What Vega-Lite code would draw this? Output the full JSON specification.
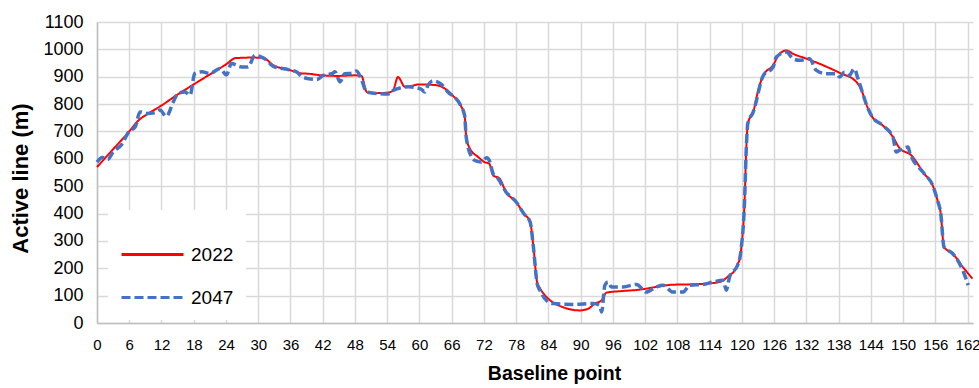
{
  "$schema": "https://vega.github.io/schema/vega-lite/v6.json",
  "width": 876,
  "height": 301,
  "autosize": {"type": "none"},
  "padding": {"left": 97, "top": 22, "right": 6, "bottom": 65},
  "background": "white",
  "config": {"view": {"stroke": null}, "font": "Liberation Sans"},
  "datasets": {
    "y2022": [
      {"point": 0, "m": 570}, {"point": 3, "m": 635}, {"point": 6, "m": 700}, {"point": 7.7, "m": 740},
      {"point": 9.5, "m": 765}, {"point": 12, "m": 795}, {"point": 15, "m": 835}, {"point": 18, "m": 872},
      {"point": 21.3, "m": 912}, {"point": 24, "m": 945}, {"point": 25.8, "m": 968}, {"point": 29, "m": 970},
      {"point": 31, "m": 968}, {"point": 32.8, "m": 942}, {"point": 35.6, "m": 926}, {"point": 38.1, "m": 912},
      {"point": 39.3, "m": 911}, {"point": 41.8, "m": 905}, {"point": 44.9, "m": 903}, {"point": 48, "m": 905},
      {"point": 49.2, "m": 903}, {"point": 50.2, "m": 844}, {"point": 51.7, "m": 840}, {"point": 54.2, "m": 842},
      {"point": 55.1, "m": 850}, {"point": 56, "m": 899}, {"point": 57.3, "m": 863}, {"point": 60.1, "m": 872},
      {"point": 63.2, "m": 869}, {"point": 64.7, "m": 857}, {"point": 66.3, "m": 829}, {"point": 67.8, "m": 790},
      {"point": 68.4, "m": 759}, {"point": 68.7, "m": 680}, {"point": 69.4, "m": 637}, {"point": 70.9, "m": 607},
      {"point": 72.1, "m": 588}, {"point": 73, "m": 582}, {"point": 73.7, "m": 540}, {"point": 74.9, "m": 528},
      {"point": 76.1, "m": 479}, {"point": 78, "m": 442}, {"point": 79.4, "m": 400}, {"point": 80.6, "m": 369},
      {"point": 81.2, "m": 280}, {"point": 81.9, "m": 148}, {"point": 82.4, "m": 128}, {"point": 84.3, "m": 83},
      {"point": 86.7, "m": 58}, {"point": 89.8, "m": 46}, {"point": 91.4, "m": 52}, {"point": 92.6, "m": 71},
      {"point": 93.9, "m": 83}, {"point": 94.8, "m": 111}, {"point": 97.9, "m": 117}, {"point": 101, "m": 122},
      {"point": 104.1, "m": 132}, {"point": 107.2, "m": 140}, {"point": 110.3, "m": 141}, {"point": 113.4, "m": 144},
      {"point": 115.9, "m": 150}, {"point": 117.7, "m": 175}, {"point": 118.7, "m": 193}, {"point": 119.2, "m": 215},
      {"point": 119.6, "m": 235}, {"point": 119.9, "m": 278}, {"point": 120.5, "m": 448}, {"point": 120.8, "m": 631},
      {"point": 121.1, "m": 729}, {"point": 122.1, "m": 771}, {"point": 123.2, "m": 863}, {"point": 124, "m": 905},
      {"point": 125.8, "m": 942}, {"point": 127, "m": 984}, {"point": 128.3, "m": 996}, {"point": 129.5, "m": 984},
      {"point": 132, "m": 966}, {"point": 135.1, "m": 942}, {"point": 138.2, "m": 914}, {"point": 141.3, "m": 881},
      {"point": 142.5, "m": 838}, {"point": 143.1, "m": 802}, {"point": 144.2, "m": 755}, {"point": 146.2, "m": 722},
      {"point": 148.1, "m": 680}, {"point": 149.3, "m": 640}, {"point": 151.5, "m": 613}, {"point": 153.9, "m": 546},
      {"point": 155.5, "m": 503}, {"point": 156.4, "m": 448}, {"point": 157, "m": 400}, {"point": 157.6, "m": 278},
      {"point": 159.2, "m": 254}, {"point": 161.1, "m": 205}, {"point": 162.9, "m": 162}
    ],
    "y2047": [
      {"point": 0, "m": 588}, {"point": 1, "m": 605}, {"point": 2, "m": 598}, {"point": 3, "m": 625},
      {"point": 4.5, "m": 650}, {"point": 6, "m": 700}, {"point": 7.1, "m": 716}, {"point": 8, "m": 771},
      {"point": 9.2, "m": 766}, {"point": 10.7, "m": 768}, {"point": 11.7, "m": 778}, {"point": 12.9, "m": 755},
      {"point": 14.2, "m": 808}, {"point": 15.1, "m": 840}, {"point": 16.4, "m": 844}, {"point": 17.3, "m": 832},
      {"point": 18.2, "m": 912}, {"point": 19.5, "m": 918}, {"point": 21, "m": 912}, {"point": 22.9, "m": 930},
      {"point": 24.1, "m": 907}, {"point": 25, "m": 948}, {"point": 26.9, "m": 936}, {"point": 28.1, "m": 936},
      {"point": 29.4, "m": 978}, {"point": 30.6, "m": 972}, {"point": 31.2, "m": 966}, {"point": 32.8, "m": 938},
      {"point": 35.6, "m": 926}, {"point": 37.1, "m": 918}, {"point": 38.4, "m": 897}, {"point": 40.9, "m": 890},
      {"point": 42.1, "m": 905}, {"point": 43.7, "m": 911}, {"point": 44.3, "m": 918}, {"point": 45.2, "m": 881},
      {"point": 46.1, "m": 911}, {"point": 47.4, "m": 913}, {"point": 48.3, "m": 921}, {"point": 49.2, "m": 890},
      {"point": 50.2, "m": 844}, {"point": 54.2, "m": 837}, {"point": 55.1, "m": 850}, {"point": 58, "m": 863},
      {"point": 60.3, "m": 855}, {"point": 61, "m": 844}, {"point": 61.6, "m": 869}, {"point": 62.5, "m": 885},
      {"point": 64.1, "m": 872}, {"point": 65.6, "m": 838}, {"point": 66.3, "m": 829}, {"point": 67.8, "m": 790},
      {"point": 68.4, "m": 759}, {"point": 68.7, "m": 680}, {"point": 69.7, "m": 607}, {"point": 70.3, "m": 594},
      {"point": 71.5, "m": 588}, {"point": 72.5, "m": 604}, {"point": 73, "m": 594}, {"point": 73.7, "m": 546},
      {"point": 74.6, "m": 528}, {"point": 76.1, "m": 479}, {"point": 78, "m": 442}, {"point": 79.4, "m": 400},
      {"point": 80.6, "m": 369}, {"point": 81.2, "m": 278}, {"point": 81.9, "m": 144}, {"point": 82.4, "m": 120},
      {"point": 83.6, "m": 83}, {"point": 84.9, "m": 71}, {"point": 88.6, "m": 68}, {"point": 92.3, "m": 71},
      {"point": 93.5, "m": 65}, {"point": 93.9, "m": 40}, {"point": 94.5, "m": 138}, {"point": 95.1, "m": 150},
      {"point": 95.7, "m": 132}, {"point": 97.9, "m": 132}, {"point": 100.4, "m": 141}, {"point": 102.2, "m": 113},
      {"point": 104.1, "m": 132}, {"point": 105.3, "m": 138}, {"point": 107.2, "m": 113}, {"point": 109, "m": 113},
      {"point": 110.3, "m": 138}, {"point": 112.8, "m": 141}, {"point": 114.6, "m": 150}, {"point": 116.5, "m": 156},
      {"point": 117.1, "m": 120}, {"point": 117.7, "m": 168}, {"point": 119.2, "m": 211}, {"point": 119.6, "m": 235},
      {"point": 119.9, "m": 278}, {"point": 120.5, "m": 448}, {"point": 120.8, "m": 631}, {"point": 121.1, "m": 729},
      {"point": 122.1, "m": 771}, {"point": 124, "m": 905}, {"point": 125.8, "m": 935}, {"point": 126.4, "m": 972},
      {"point": 128.3, "m": 990}, {"point": 129.5, "m": 966}, {"point": 130.7, "m": 960}, {"point": 132.6, "m": 966},
      {"point": 133.8, "m": 924}, {"point": 135.7, "m": 911}, {"point": 137.5, "m": 911}, {"point": 138.2, "m": 899},
      {"point": 139.1, "m": 917}, {"point": 140, "m": 905}, {"point": 140.9, "m": 929}, {"point": 141.6, "m": 893},
      {"point": 142.5, "m": 838}, {"point": 143.1, "m": 802}, {"point": 144.2, "m": 755}, {"point": 146.2, "m": 722},
      {"point": 148.1, "m": 680}, {"point": 148.7, "m": 625}, {"point": 149.3, "m": 631}, {"point": 150.9, "m": 643},
      {"point": 151.2, "m": 625}, {"point": 153.9, "m": 546}, {"point": 155.5, "m": 503}, {"point": 156.4, "m": 448},
      {"point": 157, "m": 400}, {"point": 157.6, "m": 278}, {"point": 159.2, "m": 254}, {"point": 160.5, "m": 217},
      {"point": 161.7, "m": 162}, {"point": 162.1, "m": 138}
    ]
  },
  "layer": [
    {
      "data": {"name": "y2022"},
      "transform": [{"calculate": "'2022'", "as": "series"}],
      "mark": {"type": "line", "interpolate": "monotone", "strokeWidth": 2},
      "encoding": {
        "x": {"field": "point", "type": "quantitative"},
        "y": {"field": "m", "type": "quantitative"},
        "color": {"field": "series", "type": "nominal"},
        "strokeDash": {"field": "series", "type": "nominal"}
      }
    },
    {
      "data": {"name": "y2047"},
      "transform": [{"calculate": "'2047'", "as": "series"}],
      "mark": {"type": "line", "interpolate": "monotone", "strokeWidth": 3.5},
      "encoding": {
        "x": {"field": "point", "type": "quantitative"},
        "y": {"field": "m", "type": "quantitative"},
        "color": {"field": "series", "type": "nominal"},
        "strokeDash": {"field": "series", "type": "nominal"}
      }
    }
  ],
  "encoding": {
    "x": {
      "field": "point", "type": "quantitative",
      "scale": {"domain": [0, 163], "nice": false, "zero": false},
      "axis": {
        "values": [0, 6, 12, 18, 24, 30, 36, 42, 48, 54, 60, 66, 72, 78, 84, 90, 96, 102, 108, 114, 120, 126, 132, 138, 144, 150, 156, 162],
        "format": "d",
        "title": "Baseline point", "grid": true, "gridColor": "#d9d9d9", "gridWidth": 1.5,
        "domainColor": "#bfbfbf", "domainWidth": 1.5, "ticks": false,
        "labelFontSize": 15, "labelPadding": 14, "labelColor": "#000000", "labelFlush": false,
        "titleFontSize": 19.5, "titleFontWeight": "bold", "titleColor": "#000000", "titlePadding": 12,
        "titleX": 457
      }
    },
    "y": {
      "field": "m", "type": "quantitative",
      "scale": {"domain": [0, 1100], "nice": false},
      "axis": {
        "values": [0, 100, 200, 300, 400, 500, 600, 700, 800, 900, 1000, 1100],
        "format": "d",
        "title": "Active line (m)", "grid": true, "gridColor": "#d9d9d9", "gridWidth": 1.5,
        "domainColor": "#bfbfbf", "domainWidth": 1.5, "ticks": false,
        "labelFontSize": 18, "labelPadding": 14, "labelColor": "#000000",
        "titleFontSize": 22, "titleFontWeight": "bold", "titleColor": "#000000", "titlePadding": 10,
        "titleY": 156
      }
    },
    "color": {
      "field": "series", "type": "nominal",
      "scale": {"domain": ["2022", "2047"], "range": ["#FF0000", "#4472C4"]},
      "legend": {
        "title": null, "orient": "none", "legendX": 11, "legendY": 188,
        "fillColor": "white", "padding": 12, "symbolType": "stroke", "symbolSize": 3844,
        "symbolStrokeWidth": 3, "labelFontSize": 19, "labelOffset": 6, "rowPadding": -21,
        "labelColor": "#000000"
      }
    },
    "strokeDash": {
      "field": "series", "type": "nominal",
      "scale": {"domain": ["2022", "2047"], "range": [[1, 0], [9, 4]]},
      "legend": {
        "title": null, "orient": "none", "legendX": 11, "legendY": 188,
        "fillColor": "white", "padding": 12, "symbolType": "stroke", "symbolSize": 3844,
        "symbolStrokeWidth": 3, "labelFontSize": 19, "labelOffset": 6, "rowPadding": -21,
        "labelColor": "#000000"
      }
    }
  }
}
